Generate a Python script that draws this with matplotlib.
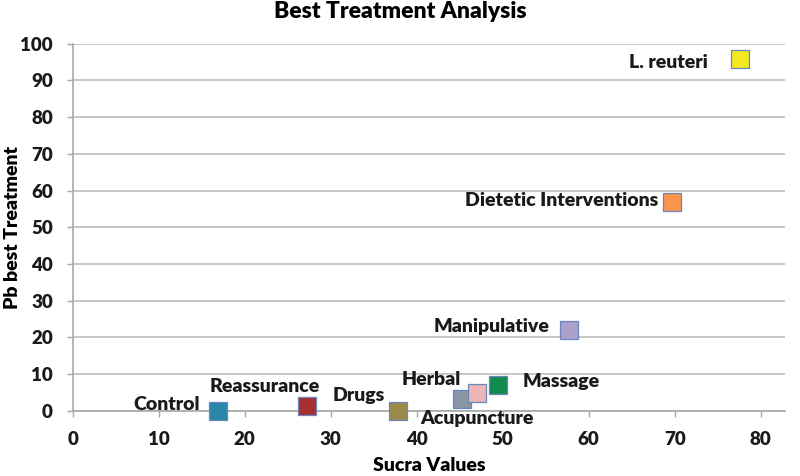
import matplotlib.pyplot as plt

# 数据：各治疗方式的 SUCRA 值与最佳治疗概率
treatments = ["Control", "Reassurance", "Drugs", "Acupuncture", "Herbal",
              "Massage", "Manipulative", "Dietetic Interventions", "L. reuteri"]
sucra = [16.9, 27.2, 37.8, 45.3, 47.0, 49.5, 57.7, 69.7, 77.6]
pb_best = [0.0, 1.3, 0.0, 3.3, 4.9, 7.1, 22.1, 56.8, 95.8]
colors = ["#2A86A8", "#A5302E", "#9A8B4A", "#8C95A3", "#EDB5B5",
          "#138A4E", "#ADA0CB", "#F7954A", "#F2EA1E"]

# 标签偏移（像素）与对齐方式
label_offsets = [(-18, 6), (-42, 20), (-13, 15), (15, -20), (-46, 13),
                 (24, 3), (-19, 3), (-14, 2), (-32, -3)]
label_ha = ["right", "center", "right", "center", "center",
            "left", "right", "right", "right"]

plt.rcParams["font.family"] = ["Lato", "DejaVu Sans"]
plt.rcParams["font.weight"] = "bold"

fig = plt.figure(figsize=(8, 4.76), dpi=100)
ax = fig.add_axes([0.091, 0.137, 0.890, 0.771])

for x, y, c in zip(sucra, pb_best, colors):
    ax.plot(x, y, marker="s", markersize=13, color=c,
            markeredgecolor="#6A86C0", markeredgewidth=0.9,
            linestyle="none", clip_on=False, zorder=3)

for name, x, y, off, ha in zip(treatments, sucra, pb_best, label_offsets, label_ha):
    ax.annotate(name, (x, y), xytext=off, textcoords="offset pixels",
                ha=ha, va="center", fontsize=14, fontweight="heavy",
                color="#1a1a1a")

ax.set_xlim(0, 82.8)
ax.set_ylim(0, 100)
ax.set_xticks(range(0, 81, 10))
ax.set_yticks(range(0, 101, 10))
ax.grid(axis="y", color="#BDBDBD", linewidth=1.2)
ax.set_axisbelow(True)

for side in ["top", "right"]:
    ax.spines[side].set_visible(False)
for side in ["left", "bottom"]:
    ax.spines[side].set_color("#A8A8A8")
    ax.spines[side].set_linewidth(1.2)

ax.tick_params(axis="both", labelsize=13.5, colors="#A8A8A8",
               labelcolor="#1a1a1a", length=4.3, width=1)
ax.tick_params(axis="y", pad=10)
ax.tick_params(axis="x", pad=10)
for lbl in ax.get_xticklabels() + ax.get_yticklabels():
    lbl.set_fontweight("heavy")

ax.set_xlabel("Sucra Values", fontsize=14, fontweight="heavy", labelpad=7)
fig.text(0.016, 0.137 + 0.771 / 2, "Pb best Treatment", rotation=90,
         ha="center", va="center", fontsize=14, fontweight="heavy")
fig.suptitle("Best Treatment Analysis", fontsize=16.5, fontweight="heavy", y=0.998)

fig.savefig("out.png", dpi=100)
